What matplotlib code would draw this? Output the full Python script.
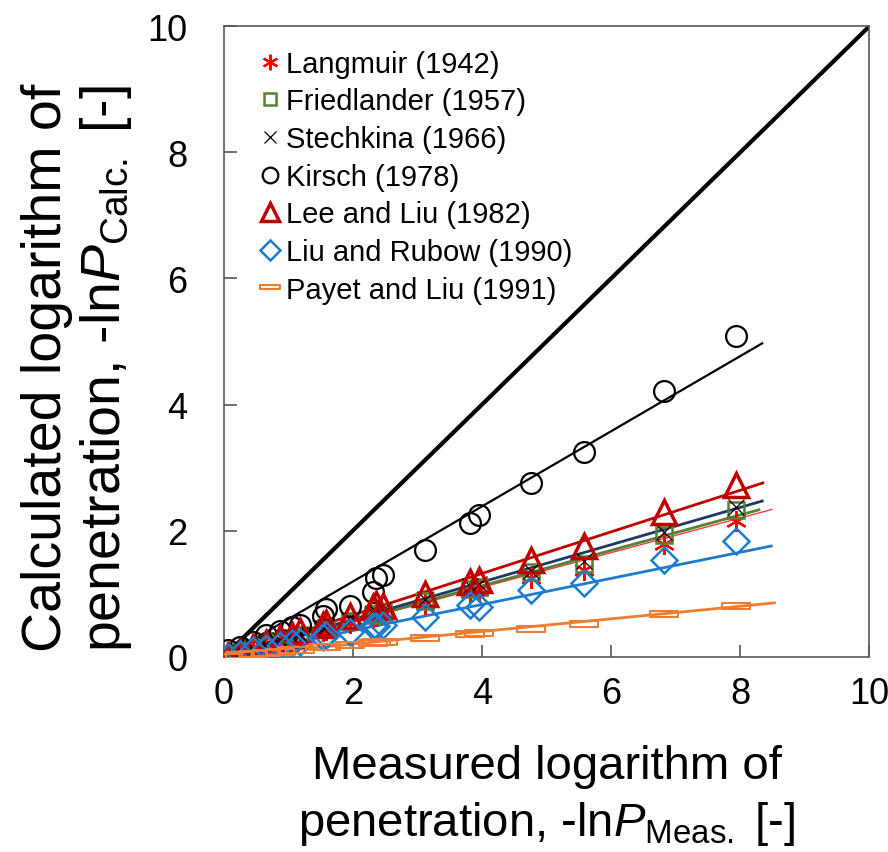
import numpy as np
import matplotlib
matplotlib.use("Agg")
from matplotlib import pyplot as plt
from matplotlib.path import Path

plt.rcParams['font.family'] = ['Liberation Sans', 'DejaVu Sans']
plt.rcParams['mathtext.fontset'] = 'custom'
plt.rcParams['mathtext.rm'] = 'Liberation Sans'
plt.rcParams['mathtext.it'] = 'Liberation Sans:italic'

# measured -lnP (shared by all models)
meas = [0.06, 0.25, 0.45, 0.66, 0.87, 1.05, 1.18, 1.53, 1.58, 1.95,
        2.31, 2.36, 2.47, 3.12, 3.82, 3.95, 4.76, 5.58, 6.82, 7.93]

# calculated -lnP for each model
langmuir = [0.02, 0.07, 0.12, 0.18, 0.23, 0.28, 0.32, 0.41, 0.43, 0.53,
            0.62, 0.64, 0.67, 0.84, 1.03, 1.06, 1.25, 1.38, 1.78, 2.15]
friedlander = [0.02, 0.07, 0.13, 0.19, 0.25, 0.30, 0.34, 0.44, 0.46, 0.56,
               0.66, 0.68, 0.71, 0.89, 1.08, 1.11, 1.34, 1.47, 1.93, 2.33]
stechkina = [0.02, 0.07, 0.13, 0.20, 0.26, 0.31, 0.35, 0.45, 0.47, 0.58,
             0.69, 0.71, 0.74, 0.92, 1.12, 1.15, 1.36, 1.52, 1.97, 2.38]
kirsch = [0.10, 0.16, 0.23, 0.35, 0.40, 0.47, 0.50, 0.65, 0.75, 0.81,
          1.03, 1.24, 1.29, 1.70, 2.12, 2.24, 2.75, 3.24, 4.21, 5.08]
lee_liu = [0.02, 0.08, 0.15, 0.22, 0.29, 0.35, 0.40, 0.50, 0.53, 0.65,
           0.78, 0.84, 0.81, 1.00, 1.18, 1.21, 1.53, 1.76, 2.29, 2.73]
liu_rubow = [0.00, 0.05, 0.10, 0.14, 0.18, 0.21, 0.23, 0.31, 0.34, 0.39,
             0.48, 0.48, 0.50, 0.63, 0.82, 0.79, 1.05, 1.17, 1.53, 1.83]
payet_liu = [0.00, 0.02, 0.04, 0.06, 0.08, 0.10, 0.11, 0.15, 0.15, 0.19,
             0.22, 0.23, 0.24, 0.30, 0.36, 0.37, 0.44, 0.52, 0.67, 0.81]

labels = ["Langmuir (1942)", "Friedlander (1957)", "Stechkina (1966)",
          "Kirsch (1978)", "Lee and Liu (1982)", "Liu and Rubow (1990)",
          "Payet and Liu (1991)"]
# slopes of the trend lines through the origin, and where they stop
slopes = [0.275, 0.281, 0.296, 0.596, 0.330, 0.207, 0.100]
fit_end = [8.49, 8.29, 8.34, 8.34, 8.35, 8.48, 8.53]

# flat hollow bar marker for Payet and Liu
bar = Path([(-1, -0.2), (1, -0.2), (1, 0.2), (-1, 0.2), (-1, -0.2)],
           [Path.MOVETO, Path.LINETO, Path.LINETO, Path.LINETO, Path.CLOSEPOLY])

series = [langmuir, friedlander, stechkina, kirsch, lee_liu, liu_rubow, payet_liu]
marker_color = ['#ff0000', '#548235', '#000000', '#000000', '#c00000', '#1c7cd0', '#ed7d31']
line_color = ['#ff3b3b', '#548235', '#1f3864', '#000000', '#c00000', '#1c7cd0', '#ed7d31']
line_width = [1.0, 2.0, 2.0, 1.6, 2.0, 2.0, 2.0]
markers = [(6, 2, 0), 's', 'x', 'o', '^', 'D', bar]
msize = [15, 12, 11, 15, 17, 13, 20]
mew = [1.6, 1.8, 0.9, 1.6, 2.5, 1.8, 1.5]

fig = plt.figure(figsize=(8.88, 8.53), dpi=100)
ax = fig.add_axes([0.252, 0.229, 0.727, 0.739])

# 1:1 line
ax.plot([0, 10], [0, 10], color='black', lw=3.0, zorder=2)

handles = []
for i in range(len(series)):
    xs = np.array([0, fit_end[i]])
    ax.plot(xs, slopes[i] * xs, color=line_color[i], lw=line_width[i], zorder=2)
    h, = ax.plot(meas, series[i], linestyle='none', marker=markers[i],
                 markersize=msize[i], markeredgewidth=mew[i],
                 markeredgecolor=marker_color[i], markerfacecolor='none',
                 zorder=3 + i)
    handles.append(h)

ax.set_xlim(0, 10)
ax.set_ylim(0, 10)
ax.set_xticks([0, 2, 4, 6, 8, 10])
ax.set_yticks([0, 2, 4, 6, 8, 10])
ax.tick_params(direction='in', length=9, width=1.2, color='#595959', labelsize=26)
ax.tick_params(axis='x', pad=14)
ax.tick_params(axis='y', pad=26)
for s in ax.spines.values():
    s.set_color('#595959')
    s.set_linewidth(1.2)

ax.set_xlabel("Measured logarithm of\npenetration, -ln$\\mathit{P}_{\\mathrm{Meas.}}$ [-]",
              fontsize=34, labelpad=24, linespacing=1.3)
ax.set_ylabel("Calculated logarithm of\npenetration, -ln$\\mathit{P}_{\\mathrm{Calc.}}$ [-]",
              fontsize=40, labelpad=10, linespacing=1.1, multialignment='left')
ax.yaxis.label.set_y(0.46)

leg = ax.legend(handles, labels, loc='upper left', bbox_to_anchor=(0.024, 0.995),
                frameon=False, fontsize=21, handlelength=0.7, handletextpad=0.2,
                labelspacing=0.33, markerscale=0.75, borderaxespad=0.3)

fig.savefig("out.png", dpi=100)
